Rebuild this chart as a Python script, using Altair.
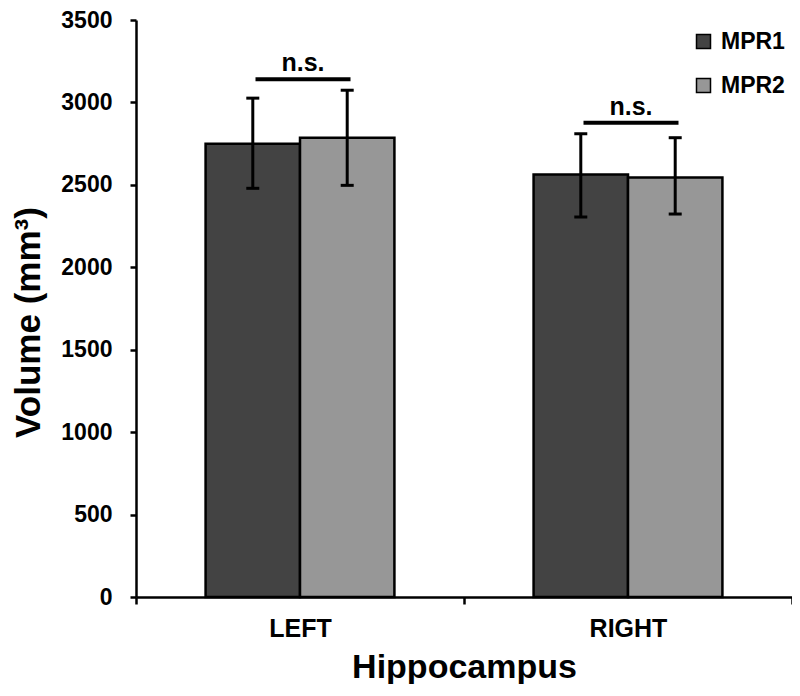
import altair as alt
import pandas as pd

# ---- data ----
sides = ["LEFT", "LEFT", "RIGHT", "RIGHT"]
scans = ["MPR1", "MPR2", "MPR1", "MPR2"]
means = [2750, 2786, 2563, 2545]
upper = [3026, 3074, 2810, 2786]
lower = [2479, 2497, 2305, 2323]

ns_sides = ["LEFT", "RIGHT"]
ns_levels = [3140, 2876]
ns_labels = ["n.s.", "n.s."]

side_order = ["LEFT", "RIGHT"]
scan_order = ["MPR1", "MPR2"]
scan_colors = ["#434343", "#979797"]
y_ticks = [0, 500, 1000, 1500, 2000, 2500, 3000, 3500]

df = pd.DataFrame({"side": sides, "scan": scans, "mean": means,
                   "upper": upper, "lower": lower})
ns_df = pd.DataFrame({"side": ns_sides, "level": ns_levels, "label": ns_labels})

FONT = "Liberation Sans"

x_scale = alt.Scale(domain=side_order, paddingInner=0, paddingOuter=0)
xo_scale = alt.Scale(domain=scan_order, paddingInner=0, paddingOuter=0.737)
y_scale = alt.Scale(domain=[0, 3500], nice=False, zero=True)

x_main = alt.X("side:N", scale=x_scale, sort=side_order,
               axis=alt.Axis(title="Hippocampus", ticks=True, tickBand="extent",
                             tickSize=7, tickWidth=2.5, tickColor="black",
                             domain=True, domainColor="black", domainWidth=2.5,
                             labelFont=FONT, labelFontSize=25, labelFontWeight="bold",
                             labelColor="black", labelPadding=12, labelAngle=0,
                             titleFont=FONT, titleFontSize=34, titleFontWeight="bold",
                             titleColor="black", titlePadding=9, grid=False))
x_plain = alt.X("side:N", scale=x_scale, sort=side_order)
xo = alt.XOffset("scan:N", scale=xo_scale, sort=scan_order)

y_main = alt.Y("mean:Q", scale=y_scale,
               axis=alt.Axis(values=y_ticks, format="d", title="Volume (mm³)", grid=False,
                             tickSize=6, tickWidth=2.5, tickColor="black",
                             domainColor="black", domainWidth=2.5,
                             labelFont=FONT, labelFontSize=23, labelFontWeight="bold",
                             labelColor="black", labelPadding=18,
                             titleFont=FONT, titleFontSize=35, titleFontWeight="bold",
                             titleColor="black", titlePadding=14, titleY=302))

bars = alt.Chart(df).mark_bar(stroke="black", strokeWidth=2.5, opacity=1).encode(
    x=x_main,
    xOffset=xo,
    y=y_main,
    color=alt.Color("scan:N",
                    scale=alt.Scale(domain=scan_order, range=scan_colors),
                    legend=alt.Legend(title=None, orient="none", legendX=556, legendY=10,
                                      symbolType="square", symbolSize=196,
                                      symbolStrokeColor="black", symbolStrokeWidth=1.5,
                                      symbolOpacity=1,
                                      labelFont=FONT, labelFontSize=23,
                                      labelFontWeight="bold", labelColor="black",
                                      rowPadding=20, labelOffset=6, padding=0)),
)

err = alt.Chart(df).mark_rule(color="black", strokeWidth=3).encode(
    x=x_plain, xOffset=xo,
    y=alt.Y("lower:Q", scale=y_scale), y2="upper:Q",
)
cap_hi = alt.Chart(df).mark_tick(color="black", thickness=3, size=13,
                                 orient="horizontal", opacity=1).encode(
    x=x_plain, xOffset=xo, y=alt.Y("upper:Q", scale=y_scale),
)
cap_lo = alt.Chart(df).mark_tick(color="black", thickness=3, size=13,
                                 orient="horizontal", opacity=1).encode(
    x=x_plain, xOffset=xo, y=alt.Y("lower:Q", scale=y_scale),
)

ns_line = alt.Chart(ns_df).mark_tick(color="black", thickness=4, size=95,
                                     orient="horizontal", opacity=1, xOffset=3).encode(
    x=x_plain, y=alt.Y("level:Q", scale=y_scale),
)
ns_text = alt.Chart(ns_df).mark_text(font=FONT, fontSize=25, fontWeight="bold",
                                     color="black", baseline="bottom", dy=-3,
                                     xOffset=3).encode(
    x=x_plain, y=alt.Y("level:Q", scale=y_scale), text="label:N",
)

chart = alt.layer(bars, err, cap_hi, cap_lo, ns_line, ns_text).properties(
    width=656, height=577,
    autosize=alt.AutoSizeParams(type="none"),
    padding={"left": 128, "top": 12, "right": 0, "bottom": 87},
    background="white",
).configure_view(strokeWidth=0)

chart.save("out.html", embed_options={"renderer": "svg", "actions": False})
